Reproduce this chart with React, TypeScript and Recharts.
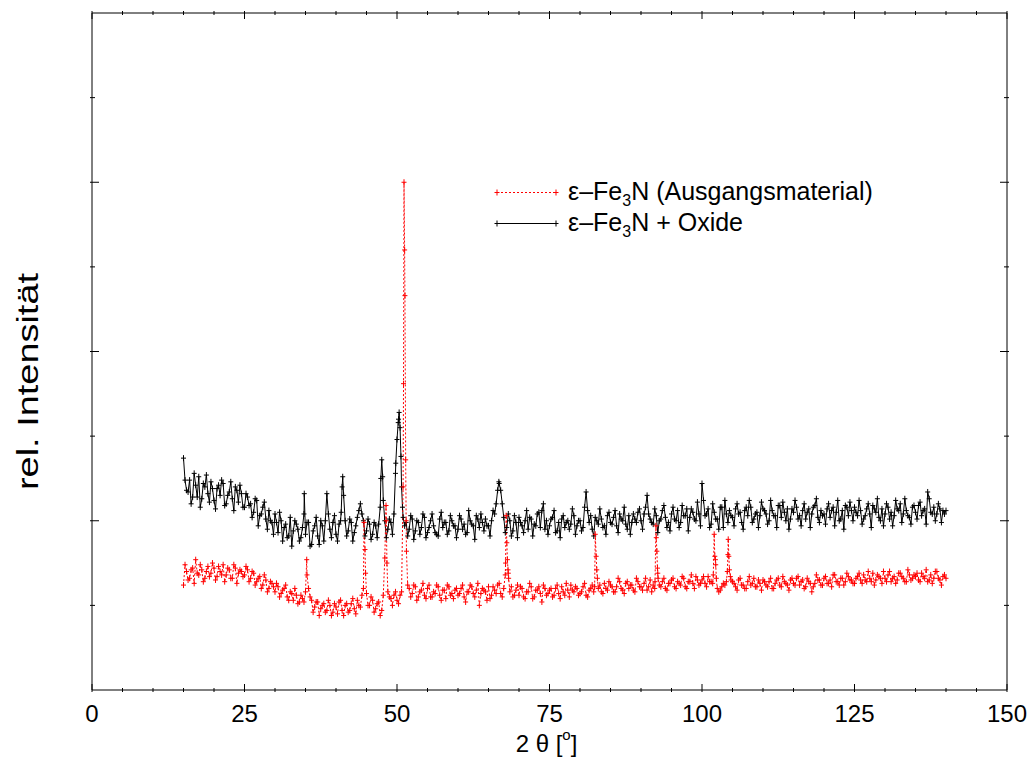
import React from 'react';
import { LineChart, Line, XAxis, YAxis, Legend } from 'recharts';

const FONT = '"Liberation Sans", Arial, Helvetica, sans-serif';

// measurement grid: 15° .. 140° in 0.5° steps (A) and 15.25° .. 139.75° (B)
const START_A = 15;
const START_B = 15.25;
const STEP_ANGLE = 0.5;

// ε-Fe3N (Ausgangsmaterial) — intensities (rel. units, 100 = 1 major tick)
const redGridA = [
  62, 70, 66, 72, 77, 68, 71, 66, 73, 69,
  72, 67, 70, 74, 68, 71, 66, 72, 69, 70,
  68, 71, 66, 69, 64, 67, 62, 65, 60, 63,
  58, 61, 57, 60, 55, 58, 53, 56, 52, 54,
  58, 60, 53, 49, 52, 48, 51, 47, 50, 46,
  49, 52, 47, 50, 46, 51, 48, 53, 49, 60,
  57, 50, 53, 48, 52, 47, 78, 58, 54, 56,
  53, 56, 120, 100, 60, 57, 61, 55, 59, 56,
  60, 55, 58, 62, 56, 59, 54, 61, 57, 59,
  56, 60, 55, 58, 62, 57, 59, 50, 60, 58,
  61, 56, 59, 62, 57, 60, 87, 58, 55, 59,
  56, 60, 54, 58, 61, 55, 59, 57, 62, 56,
  59, 55, 60, 57, 61, 56, 59, 62, 58, 60,
  57, 61, 56, 59, 62, 92, 60, 58, 63, 59,
  62, 58, 61, 64, 59, 63, 60, 62, 58, 64,
  61, 63, 59, 65, 62, 90, 62, 64, 60, 63,
  65, 61, 64, 62, 66, 60, 64, 63, 67, 62,
  65, 63, 67, 64, 92, 60, 59, 63, 64, 71,
  64, 61, 65, 62, 60, 64, 62, 66, 61, 63,
  65, 62, 64, 60, 63, 66, 61, 64, 62, 65,
  63, 66, 62, 65, 61, 64, 58, 63, 65, 62,
  66, 63, 65, 68, 64, 62, 66, 64, 67, 65,
  63, 67, 65, 68, 64, 66, 69, 65, 67, 63,
  66, 68, 64, 67, 65, 69, 66, 64, 68, 66,
  67, 65, 69, 66, 64, 68, 66, 70, 65, 67,
  66,
];

const redGridB = [
  74, 65, 71, 63, 69, 74, 64, 70, 67, 75,
  65, 73, 68, 64, 72, 66, 74, 63, 71, 67,
  73, 64, 70, 62, 66, 60, 68, 58, 64, 61,
  63, 55, 59, 62, 53, 57, 60, 51, 56, 52,
  68, 55, 46, 52, 44, 50, 46, 53, 44, 51,
  45, 53, 44, 51, 47, 54, 45, 50, 56, 83,
  50, 55, 46, 51, 44, 56, 100, 55, 50, 58,
  51, 58, 260, 62, 55, 62, 53, 58, 63, 54,
  62, 55, 57, 61, 53, 59, 62, 56, 54, 60,
  57, 62, 52, 58, 61, 55, 63, 57, 59, 53,
  54, 61, 57, 63, 55, 68, 69, 61, 56, 62,
  61, 55, 58, 63, 54, 59, 61, 52, 60, 57,
  60, 56, 62, 54, 58, 63, 55, 59, 61, 56,
  58, 63, 55, 60, 58, 71, 62, 57, 60, 64,
  61, 58, 66, 60, 57, 64, 62, 59, 66, 61,
  59, 66, 61, 58, 60, 69, 61, 66, 59, 63,
  66, 60, 63, 67, 61, 64, 68, 60, 65, 63,
  67, 61, 64, 63, 74, 58, 61, 62, 80, 65,
  63, 59, 66, 62, 60, 67, 63, 61, 65, 59,
  64, 61, 66, 60, 65, 62, 67, 63, 59, 66,
  62, 67, 64, 60, 66, 63, 61, 68, 65, 62,
  67, 63, 61, 68, 64, 66, 62, 69, 65, 63,
  66, 69, 63, 65, 70, 64, 62, 68, 66, 70,
  64, 70, 66, 63, 69, 67, 64, 71, 65, 68,
  69, 64, 67, 71, 65, 63, 70, 66, 62, 68,
];

// extra points resolving the narrow reflections [angle, intensity]
const redPeaks: [number, number][] = [
  [35.2, 77],
  [44.6, 99], [44.85, 69],
  [48.2, 109], [48.35, 75],
  [51.07, 181], [51.15, 300], [51.3, 233], [51.42, 136], [51.55, 82],
  [67.8, 75], [67.9, 103], [68.1, 77], [68.2, 71], [68.3, 66],
  [82.4, 61], [82.65, 79], [82.85, 66],
  [92.3, 64], [92.45, 97], [92.6, 82], [92.7, 72], [92.8, 66],
  [101.85, 68], [102.1, 79], [102.2, 77], [102.35, 66],
  [104.15, 70], [104.3, 89], [104.4, 79], [104.65, 67],
];

// ε-Fe3N + Oxide — intensities
const blackGridA = [
  137, 118, 124, 114, 121, 126, 113, 120, 116, 123,
  112, 119, 115, 122, 110, 117, 113, 120, 111, 116,
  108, 114, 110, 105, 112, 103, 108, 101, 106, 99,
  104, 93, 100, 96, 90, 102, 94, 98, 88, 96,
  92, 99, 86, 97, 91, 100, 88, 116, 95, 99,
  92, 98, 120, 100, 94, 99, 93, 102, 110, 100,
  94, 98, 92, 97, 98, 136, 100, 95, 99, 104,
  148, 155, 102, 99, 95, 101, 94, 99, 96, 102,
  93, 100, 97, 92, 101, 96, 99, 94, 100, 97,
  95, 101, 98, 93, 100, 97, 103, 96, 99, 101,
  97, 100, 104, 118, 118, 102, 96, 100, 94, 99,
  102, 97, 100, 95, 101, 98, 104, 96, 110, 100,
  97, 102, 93, 99, 101, 96, 100, 98, 103, 97,
  100, 96, 117, 99, 95, 102, 98, 101, 97, 103,
  99, 102, 97, 104, 100, 98, 103, 99, 101, 105,
  100, 104, 115, 101, 98, 103, 100, 106, 102, 99,
  104, 101, 106, 99, 103, 107, 102, 105, 100, 104,
  122, 103, 107, 98, 105, 101, 108, 96, 104, 106,
  102, 107, 104, 99, 106, 103, 108, 101, 105, 103,
  107, 104, 100, 106, 103, 109, 102, 105, 107, 101,
  105, 108, 103, 106, 101, 107, 104, 109, 102, 106,
  104, 107, 102, 108, 105, 100, 106, 109, 103, 106,
  108, 103, 106, 101, 107, 104, 109, 105, 102, 107,
  104, 108, 105, 103, 107, 110, 104, 106, 102, 108,
  105, 109, 103, 107, 117, 105, 108, 104, 107, 106,
  106,
];

const blackGridB = [
  124, 117, 110, 128, 114, 108, 122, 127, 111, 119,
  107, 121, 124, 109, 115, 123, 106, 118, 121, 108,
  116, 109, 102, 113, 97, 104, 111, 95, 100, 92,
  99, 105, 88, 98, 91, 85, 100, 95, 90, 104,
  99, 85, 94, 102, 86, 97, 100, 104, 90, 103,
  88, 100, 115, 91, 101, 88, 97, 106, 104, 91,
  101, 89, 99, 90, 108, 112, 90, 101, 92, 128,
  160, 120, 97, 91, 103, 89, 100, 92, 104, 90,
  96, 104, 93, 91, 105, 99, 92, 103, 97, 90,
  103, 95, 92, 106, 98, 89, 101, 104, 94, 97,
  91, 106, 110, 122, 110, 93, 104, 91, 103, 90,
  99, 93, 106, 102, 91, 97, 105, 106, 95, 92,
  101, 106, 94, 90, 103, 99, 95, 107, 92, 100,
  94, 108, 106, 103, 91, 100, 107, 96, 92, 105,
  98, 106, 93, 101, 108, 95, 92, 104, 99, 107,
  95, 108, 104, 99, 107, 93, 101, 109, 96, 94,
  108, 100, 96, 109, 103, 94, 107, 101, 111, 97,
  112, 104, 96, 110, 101, 95, 108, 112, 99, 103,
  97, 110, 105, 95, 108, 112, 99, 104, 96, 111,
  106, 98, 112, 103, 96, 109, 111, 100, 95, 107,
  112, 101, 97, 110, 105, 96, 108, 113, 99, 103,
  98, 110, 106, 97, 112, 101, 95, 108, 111, 100,
  105, 112, 98, 103, 110, 96, 107, 113, 100, 97,
  110, 101, 97, 112, 106, 99, 113, 103, 98, 109,
  101, 111, 106, 98, 113, 104, 100, 110, 99, 104,
];

const blackPeaks: [number, number][] = [
  [34.8, 116],
  [40.85, 105], [41.1, 126],
  [47.35, 125], [47.65, 126],
  [49.8, 134], [50.2, 158], [50.35, 164], [50.65, 138], [50.9, 108],
  [66.7, 123],
];

const xTicks = [0, 5, 10, 15, 20, 25, 30, 35, 40, 45, 50, 55, 60, 65, 70, 75, 80, 85, 90, 95, 100, 105, 110, 115, 120, 125, 130, 135, 140, 145, 150];
const xLabelTicks = [0, 25, 50, 75, 100, 125, 150];
const yTicks = [50, 100, 150, 200, 250, 300, 350];
const yMajorTicks = [100, 200, 300];

function buildSeries(gridA: number[], gridB: number[], peaks: [number, number][]) {
  const pts = gridA.map((v, i) => ({ angle: START_A + STEP_ANGLE * i, value: v }));
  gridB.forEach((v, i) => pts.push({ angle: START_B + STEP_ANGLE * i, value: v }));
  peaks.forEach(([a, v]) => pts.push({ angle: a, value: v }));
  pts.sort((p, q) => p.angle - q.angle);
  return pts;
}

const redData = buildSeries(redGridA, redGridB, redPeaks);
const blackData = buildSeries(blackGridA, blackGridB, blackPeaks);

const makePlus = (color: string) => (props: any) => {
  const { cx, cy, index } = props;
  if (cx == null || cy == null || isNaN(cx) || isNaN(cy)) return <g key={`n${index}`} />;
  return (
    <path
      key={`p${index}`}
      d={`M${cx - 2.5},${cy}H${cx + 2.5}M${cx},${cy - 3}V${cy + 3}`}
      stroke={color}
      strokeWidth={1}
      fill="none"
    />
  );
};

const BottomTick = (props: any) => {
  const { x, y, payload } = props;
  const v = payload.value;
  const major = xLabelTicks.includes(v);
  return (
    <g>
      <line x1={x} x2={x} y1={y} y2={y - (major ? 8 : 4)} stroke="#000" strokeWidth={1} />
      {major && (
        <text x={x} y={y + 30} textAnchor="middle" fontSize={24} fontFamily={FONT} fill="#000">
          {v}
        </text>
      )}
    </g>
  );
};

const TopTick = (props: any) => {
  const { x, y, payload } = props;
  const major = xLabelTicks.includes(payload.value);
  return <line x1={x} x2={x} y1={y} y2={y + (major ? 8 : 4)} stroke="#000" strokeWidth={1} />;
};

const LeftTick = (props: any) => {
  const { x, y, payload } = props;
  const major = yMajorTicks.includes(payload.value);
  return <line x1={x} x2={x + (major ? 9 : 5)} y1={y} y2={y} stroke="#000" strokeWidth={1} />;
};

const RightTick = (props: any) => {
  const { x, y, payload } = props;
  const major = yMajorTicks.includes(payload.value);
  return <line x1={x} x2={x - (major ? 9 : 5)} y1={y} y2={y} stroke="#000" strokeWidth={1} />;
};

const XLabel = (props: any) => {
  const vb = props.viewBox || { x: 92, y: 690, width: 915, height: 10 };
  const cx = vb.x + vb.width / 2 - 3;
  return (
    <text x={cx} y={752} textAnchor="middle" fontSize={24} fontFamily={FONT} fill="#000">
      <tspan>2 θ [</tspan>
      <tspan dy={-12} fontSize={15}>o</tspan>
      <tspan dy={12}>]</tspan>
    </text>
  );
};

const YLabel = () => {
  const x = 38;
  const y = 381.5;
  return (
    <text
      x={x}
      y={y}
      transform={`rotate(-90, ${x}, ${y})`}
      textAnchor="middle"
      fontSize={29}
      fontFamily={FONT}
      fill="#000"
      textLength={217}
      lengthAdjust="spacingAndGlyphs"
    >
      rel. Intensität
    </text>
  );
};

const LegendRow = ({ color, dashed, children }: any) => (
  <div style={{ display: 'flex', alignItems: 'center', height: 31 }}>
    <svg width={78} height={31} style={{ display: 'block' }}>
      <line x1={7} x2={66} y1={15.5} y2={15.5} stroke={color} strokeWidth={1} strokeDasharray={dashed ? '2 2' : undefined} />
      <path d="M4.5,15.5H9.5M7,12.5V18.5M63.5,15.5H68.5M66,12.5V18.5" stroke={color} strokeWidth={1} fill="none" />
    </svg>
    <span style={{ whiteSpace: 'nowrap' }}>{children}</span>
  </div>
);

const renderLegend = () => (
  <div style={{ fontFamily: FONT, fontSize: 25, color: '#000', lineHeight: '31px' }}>
    <LegendRow color="#ff0000" dashed>
      ε–Fe<span style={{ fontSize: 16, position: 'relative', top: 6 }}>3</span>N (Ausgangsmaterial)
    </LegendRow>
    <LegendRow color="#000000">
      ε–Fe<span style={{ fontSize: 16, position: 'relative', top: 6 }}>3</span>N + Oxide
    </LegendRow>
  </div>
);

export default function App() {
  return (
    <div style={{ position: 'absolute', left: 0, top: 0, width: 1033, height: 758, background: '#fff' }}>
      <LineChart width={1033} height={758} margin={{ top: 3, right: 16, bottom: 58, left: 82 }}>
        <XAxis
          xAxisId="b"
          type="number"
          dataKey="angle"
          domain={[0, 150]}
          allowDataOverflow
          ticks={xTicks}
          interval={0}
          tickSize={0}
          tickLine={false}
          height={10}
          axisLine={{ stroke: '#000', strokeWidth: 1 }}
          tick={<BottomTick />}
          label={XLabel}
        />
        <XAxis
          xAxisId="t"
          orientation="top"
          type="number"
          dataKey="angle"
          domain={[0, 150]}
          allowDataOverflow
          ticks={xTicks}
          interval={0}
          tickSize={0}
          tickLine={false}
          height={10}
          axisLine={{ stroke: '#000', strokeWidth: 1 }}
          tick={<TopTick />}
        />
        <YAxis
          yAxisId="l"
          type="number"
          domain={[0, 400]}
          allowDataOverflow
          ticks={yTicks}
          interval={0}
          tickSize={0}
          tickLine={false}
          width={10}
          axisLine={{ stroke: '#000', strokeWidth: 1 }}
          tick={<LeftTick />}
          label={YLabel}
        />
        <YAxis
          yAxisId="r"
          orientation="right"
          type="number"
          domain={[0, 400]}
          allowDataOverflow
          ticks={yTicks}
          interval={0}
          tickSize={0}
          tickLine={false}
          width={10}
          axisLine={{ stroke: '#000', strokeWidth: 1 }}
          tick={<RightTick />}
        />
        <Legend
          layout="vertical"
          align="center"
          verticalAlign="middle"
          content={renderLegend}
          wrapperStyle={{ position: 'absolute', left: 490, top: 177, width: 420, height: 62 }}
        />
        <Line
          xAxisId="b"
          yAxisId="l"
          data={blackData}
          dataKey="value"
          type="linear"
          stroke="#000000"
          strokeWidth={1}
          dot={makePlus('#000000')}
          activeDot={false}
          isAnimationActive={false}
        />
        <Line
          xAxisId="b"
          yAxisId="l"
          data={redData}
          dataKey="value"
          type="linear"
          stroke="#ff0000"
          strokeWidth={1}
          strokeDasharray="2 2"
          dot={makePlus('#ff0000')}
          activeDot={false}
          isAnimationActive={false}
        />
      </LineChart>
    </div>
  );
}
